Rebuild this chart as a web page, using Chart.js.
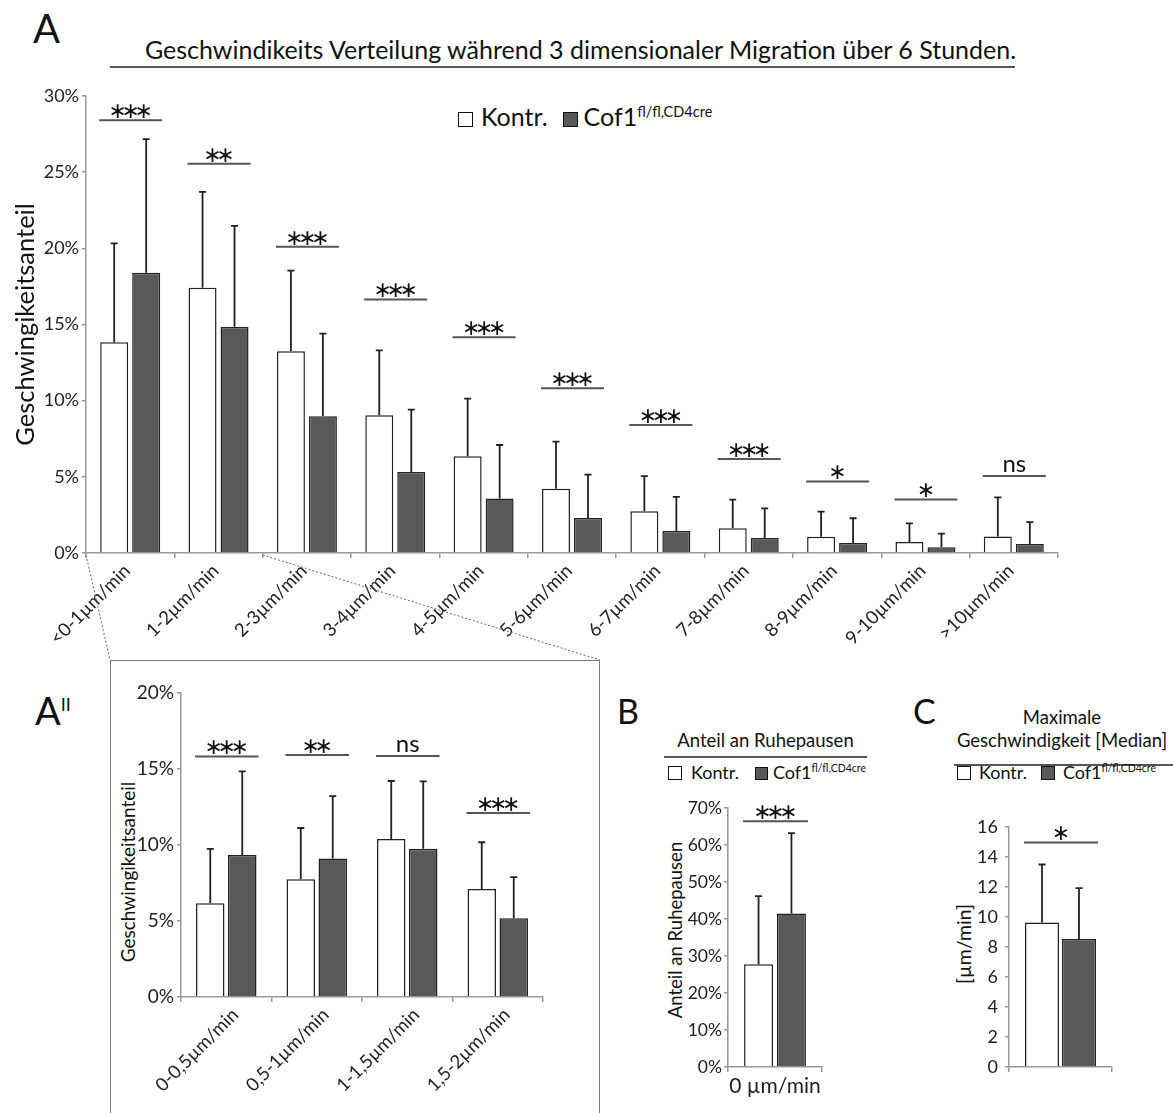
<!DOCTYPE html>
<html>
<head>
<meta charset="utf-8">
<script src="https://cdn.jsdelivr.net/npm/chart.js@4.4.1/dist/chart.umd.min.js"></script>
<style>
  body { margin: 0; background: #fff; font-family: Lato, sans-serif; color: #111; }
  #page { position: relative; width: 1173px; height: 1113px; overflow: hidden; }
  .abs { position: absolute; white-space: nowrap; line-height: 1; }
  canvas { position: absolute; }
  .sq { display: inline-block; box-sizing: border-box; border: 1.5px solid #111; vertical-align: -1px; }
  .sq.w { background: #fff; }
  .sq.d { background: #595959; }
  sup { line-height: 0; }
  .rule { position: absolute; height: 0; border-top: 2px solid #555; }
  .vtitle { position: absolute; white-space: nowrap; line-height: 1; transform: translate(-50%, -50%) rotate(-90deg); }
</style>
</head>
<body>
<div id="page">
  <div class="abs" style="left:33px;top:8px;font-size:40px">A</div>
  <div class="abs" style="left:128px;width:905px;top:37px;font-size:25px;text-align:center">Geschwindikeits Verteilung während 3 dimensionaler Migration über 6 Stunden.</div>
  <div class="rule" style="left:110px;top:66px;width:905px"></div>
  <div class="abs" style="left:458px;top:104px;font-size:25px">
    <span class="sq w" style="width:15px;height:15px"></span><span style="margin-left:8px">Kontr.</span><span class="sq d" style="width:15px;height:15px;margin-left:15px"></span><span style="margin-left:6px">Cof1<sup style="font-size:14.5px">fl/fl,CD4cre</sup></span>
  </div>

  <div class="abs" style="left:35px;top:691px;font-size:38px">A<sup style="font-size:18px">II</sup></div>
  <div style="position:absolute;left:110px;top:660px;width:490px;height:470px;border:1px solid #777;box-sizing:border-box"></div>
  <div class="vtitle" style="left:127px;top:872px;font-size:19px">Geschwingikeitsanteil</div>

  <div class="abs" style="left:617px;top:694px;font-size:34px">B</div>
  <div class="abs" style="left:664px;width:203px;top:731px;font-size:18.5px;text-align:center">Anteil an Ruhepausen</div>
  <div class="rule" style="left:664px;top:756px;width:203px"></div>
  <div class="abs" style="left:668px;top:763px;font-size:18px">
    <span class="sq w" style="width:14px;height:14px"></span><span style="margin-left:9px">Kontr.</span><span class="sq d" style="width:13px;height:13px;margin-left:16px"></span><span style="margin-left:5px">Cof1<sup style="font-size:10.5px">fl/fl,CD4cre</sup></span>
  </div>
  <div class="vtitle" style="left:675px;top:930px;font-size:18.5px">Anteil an Ruhepausen</div>

  <div class="abs" style="left:913px;top:694px;font-size:34px">C</div>
  <div class="abs" style="left:956px;width:212px;top:706px;font-size:18.5px;text-align:center;line-height:23px">Maximale<br>Geschwindigkeit [Median]</div>
  <div class="rule" style="left:954px;top:764px;width:219px"></div>
  <div class="abs" style="left:957px;top:763px;font-size:18px">
    <span class="sq w" style="width:14px;height:14px"></span><span style="margin-left:8px">Kontr.</span><span class="sq d" style="width:14px;height:14px;margin-left:14px"></span><span style="margin-left:8px">Cof1<sup style="font-size:10.5px">fl/fl,CD4cre</sup></span>
  </div>
  <div class="vtitle" style="left:964px;top:944px;font-size:19.5px">[µm/min]</div>

  <canvas id="chartA" width="1173" height="665" style="left:0;top:0"></canvas>
  <canvas id="chartA2" width="490" height="453" style="left:110px;top:660px"></canvas>
  <canvas id="chartB" width="220" height="323" style="left:620px;top:790px"></canvas>
  <canvas id="chartC" width="200" height="313" style="left:930px;top:800px"></canvas>
</div>

<script>
// speed distribution, 3D migration over 6 h (mean %, SD)
const catsA = ['<0-1µm/min', '1-2µm/min', '2-3µm/min', '3-4µm/min', '4-5µm/min', '5-6µm/min',
               '6-7µm/min', '7-8µm/min', '8-9µm/min', '9-10µm/min', '>10µm/min'];
const kontrA = [13.83, 17.41, 13.24, 9.04, 6.35, 4.22, 2.74, 1.62, 1.07, 0.72, 1.09];
const kontrSdA = [6.50, 6.29, 5.30, 4.26, 3.78, 3.09, 2.31, 1.88, 1.64, 1.23, 2.56];
const cofA = [18.40, 14.86, 8.97, 5.32, 3.57, 2.30, 1.44, 0.98, 0.66, 0.37, 0.59];
const cofSdA = [8.77, 6.61, 5.43, 4.09, 3.52, 2.84, 2.24, 1.95, 1.62, 0.90, 1.44];
const sigYA = [28.4, 25.55, 20.1, 16.64, 14.16, 10.81, 8.40, 6.17, 4.70, 3.52, 5.05];
const sigTxtA = ['***', '**', '***', '***', '***', '***', '***', '***', '*', '*', 'ns'];

// zoom into 0-2 µm/min
const catsA2 = ['0-0,5µm/min', '0,5-1µm/min', '1-1,5µm/min', '1,5-2µm/min'];
const kontrA2 = [6.16, 7.74, 10.39, 7.10];
const kontrSdA2 = [3.58, 3.38, 3.82, 3.08];
const cofA2 = [9.34, 9.12, 9.76, 5.18];
const cofSdA2 = [5.51, 4.10, 4.43, 2.71];
const sigYA2 = [15.83, 15.92, 15.86, 12.1];
const sigTxtA2 = ['***', '**', 'ns', '***'];

// resting phases
const catsB = ['0 µm/min'];
const kontrB = [27.8];
const kontrSdB = [18.4];
const cofB = [41.5];
const cofSdB = [21.7];
const sigYB = [66.4];
const sigTxtB = ['***'];

// max speed (median)
const catsC = [''];
const kontrC = [9.64];
const kontrSdC = [3.86];
const cofC = [8.54];
const cofSdC = [3.39];
const sigYC = [14.97];
const sigTxtC = ['*'];

Chart.defaults.font.family = 'Lato';
Chart.defaults.color = '#222';
Chart.defaults.animation = false;

// error bars (upper only) + significance brackets
function extras(sigY, sigTxt) {
  return {
    id: 'extras',
    afterDatasetsDraw(chart) {
      const ctx = chart.ctx;
      const y = chart.scales.y;
      ctx.save();
      ctx.strokeStyle = '#222';
      ctx.lineWidth = 1.8;
      chart.data.datasets.forEach((ds, i) => {
        chart.getDatasetMeta(i).data.forEach((bar, j) => {
          const top = y.getPixelForValue(ds.data[j] + ds.sd[j]);
          ctx.beginPath();
          ctx.moveTo(bar.x, bar.y);
          ctx.lineTo(bar.x, top);
          ctx.moveTo(bar.x - 3.5, top);
          ctx.lineTo(bar.x + 3.5, top);
          ctx.stroke();
        });
      });
      const m0 = chart.getDatasetMeta(0).data;
      const m1 = chart.getDatasetMeta(1).data;
      sigY.forEach((v, j) => {
        const x0 = m0[j].x - m0[j].width / 2 - 1;
        const x1 = m1[j].x + m1[j].width / 2 + 2;
        const ly = y.getPixelForValue(v);
        const cx = (x0 + x1) / 2;
        ctx.strokeStyle = '#555';
        ctx.lineWidth = 2;
        ctx.beginPath();
        ctx.moveTo(x0, ly);
        ctx.lineTo(x1, ly);
        ctx.stroke();
        ctx.fillStyle = '#111';
        ctx.textAlign = 'center';
        if (sigTxt[j] === 'ns') {
          ctx.font = '24px Lato';
          ctx.textBaseline = 'alphabetic';
          ctx.fillText('ns', cx, ly - 4);
        } else {
          ctx.font = '22px "DejaVu Sans"';
          ctx.textBaseline = 'middle';
          const n = sigTxt[j].length;
          for (let k = 0; k < n; k++) {
            ctx.fillText('\u2217', cx + (k - (n - 1) / 2) * 13, ly - 8);
          }
        }
      });
      ctx.restore();
    }
  };
}

// dotted lines from the 0-2 µm/min range down to the inset box
const connector = {
  id: 'connector',
  afterDraw(chart) {
    const ctx = chart.ctx;
    const x = chart.scales.x;
    const b = chart.chartArea.bottom;
    const xMid = (x.getPixelForValue(1) + x.getPixelForValue(2)) / 2;
    ctx.save();
    ctx.strokeStyle = '#666';
    ctx.lineWidth = 1;
    ctx.setLineDash([2, 2]);
    ctx.beginPath();
    ctx.moveTo(chart.chartArea.left, b + 2);
    ctx.lineTo(110, 660);
    ctx.moveTo(xMid, b + 2);
    ctx.lineTo(600, 660);
    ctx.stroke();
    ctx.restore();
  }
};

function makeBars(id, p) {
  return new Chart(document.getElementById(id), {
    type: 'bar',
    data: {
      labels: p.labels,
      datasets: [
        { label: 'Kontr.', data: p.kontr, sd: p.kontrSd, backgroundColor: '#ffffff',
          borderColor: '#222', borderWidth: 1.5,
          categoryPercentage: p.catPct, barPercentage: p.barPct },
        { label: 'Cof1', data: p.cof, sd: p.cofSd, backgroundColor: '#595959',
          borderColor: '#222', borderWidth: 1.5,
          categoryPercentage: p.catPct, barPercentage: p.barPct }
      ]
    },
    options: {
      responsive: false,
      layout: { padding: { top: p.padTop, right: p.padRight, left: 0, bottom: 0 } },
      plugins: { legend: { display: false }, tooltip: { enabled: false } },
      scales: {
        x: {
          grid: { drawOnChartArea: false, tickLength: 5, color: '#999', lineWidth: 1.5 },
          border: { color: '#999', width: 1.5 },
          ticks: { font: { size: p.xFont }, minRotation: p.rot, maxRotation: p.rot, padding: 2,
                   labelOffset: p.labelOffset || 0, color: '#222' },
          afterFit(s) { s.height = p.xH; s.paddingLeft = 0; s.paddingRight = 0; }
        },
        y: {
          min: 0, max: p.max,
          grid: { drawOnChartArea: false, tickLength: 4, color: '#999', lineWidth: 1.5 },
          border: { color: '#999', width: 1.5 },
          ticks: { stepSize: p.step, font: { size: p.yFont }, padding: p.yPad, color: '#222',
                   callback: v => v + p.unit },
          title: { display: !!p.yTitle, text: p.yTitle, font: { size: p.titleFont },
                   padding: { top: p.titlePad, bottom: 0 }, color: '#111' },
          afterFit(s) { s.width = p.yW; s.paddingTop = 0; s.paddingBottom = 0; }
        }
      }
    },
    plugins: p.plugins
  });
}

makeBars('chartA', {
  labels: catsA, kontr: kontrA, kontrSd: kontrSdA, cof: cofA, cofSd: cofSdA,
  catPct: 0.724, barPct: 0.875, padTop: 96, padRight: 115, xH: 112, yW: 86,
  max: 30, step: 5, unit: '%', xFont: 18.5, yFont: 18, yPad: 3, rot: 45, labelOffset: -3,
  yTitle: 'Geschwingikeitsanteil', titleFont: 25.5, titlePad: 10,
  plugins: [extras(sigYA, sigTxtA), connector]
});

makeBars('chartA2', {
  labels: catsA2, kontr: kontrA2, kontrSd: kontrSdA2, cof: cofA2, cofSd: cofSdA2,
  catPct: 0.707, barPct: 0.89, padTop: 33, padRight: 57, xH: 116, yW: 71,
  max: 20, step: 5, unit: '%', xFont: 18.5, yFont: 19, yPad: 3, rot: 45, labelOffset: 9,
  yTitle: '',
  plugins: [extras(sigYA2, sigTxtA2)]
});

makeBars('chartB', {
  labels: catsB, kontr: kontrB, kontrSd: kontrSdB, cof: cofB, cofSd: cofSdB,
  catPct: 0.70, barPct: 0.88, padTop: 18, padRight: 18, xH: 46, yW: 108,
  max: 70, step: 10, unit: '%', xFont: 21, yFont: 17.5, yPad: 2, rot: 0,
  yTitle: '',
  plugins: [extras(sigYB, sigTxtB)]
});

makeBars('chartC', {
  labels: catsC, kontr: kontrC, kontrSd: kontrSdC, cof: cofC, cofSd: cofSdC,
  catPct: 0.718, barPct: 0.92, padTop: 27, padRight: 18, xH: 46, yW: 79,
  max: 16, step: 2, unit: '', xFont: 18, yFont: 18, yPad: 7, rot: 0,
  yTitle: '',
  plugins: [extras(sigYC, sigTxtC)]
});
</script>
</body>
</html>
